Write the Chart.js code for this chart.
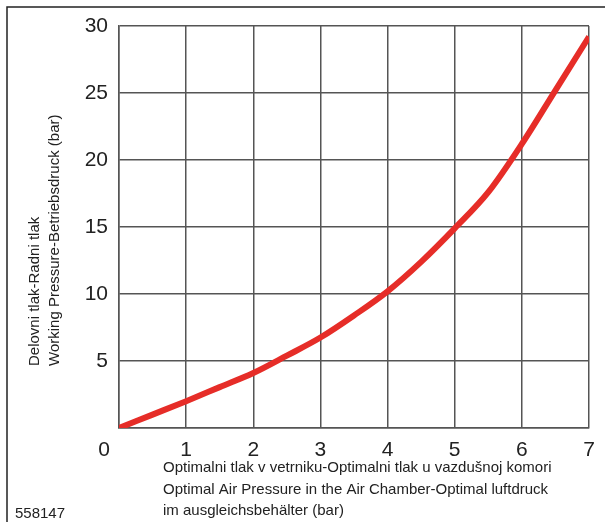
<!DOCTYPE html>
<html>
<head>
<meta charset="utf-8">
<script src="https://cdn.jsdelivr.net/npm/chart.js@4.4.0/dist/chart.umd.min.js"></script>
<style>
    html, body {margin: 0; padding: 0; background: #fff;}
    #wrap {width: 605px; height: 522px; position: relative;}
</style>
</head>
<body>
<div id="wrap"><canvas id="c"></canvas></div>
<script>
// 数据
const airPressure = [0, 0.5, 1, 1.5, 2, 2.5, 3, 3.5, 4, 4.5, 5, 5.5, 6, 6.5, 7] // x (bar)
const workPressure = [0, 1.0, 2.0, 3.05, 4.1, 5.4, 6.75, 8.4, 10.2, 12.4, 14.9, 17.6, 21.2, 25.2, 29.2] // y (bar)
const xTicks = [0, 1, 2, 3, 4, 5, 6, 7]
const yTicks = [0, 5, 10, 15, 20, 25, 30]

const yTitle = ['Delovni tlak-Radni tlak', 'Working Pressure-Betriebsdruck (bar)']
const xTitle = [
    'Optimalni tlak v vetrniku-Optimalni tlak u vazdušnoj komori',
    'Optimal Air Pressure in the Air Chamber-Optimal luftdruck',
    'im ausgleichsbehälter (bar)'
]
const figNo = '558147'

const FONT = '"Liberation Sans", Arial, sans-serif'
const GRID = '#555'
const TXT = '#222'

const points = airPressure.map((x, i) => ({x: x, y: workPressure[i]}))

// 文字 + 外框
const extras = {
    id: 'extras',
    afterDraw(chart) {
        const ctx = chart.ctx
        const a = chart.chartArea
        ctx.save()

        // 外框
        ctx.strokeStyle = '#222'
        ctx.lineWidth = 1.5
        ctx.beginPath()
        ctx.moveTo(7, 522)
        ctx.lineTo(7, 7)
        ctx.lineTo(605, 7)
        ctx.stroke()

        ctx.fillStyle = TXT

        // 原点 0
        ctx.font = '21px ' + FONT
        ctx.textAlign = 'center'
        ctx.textBaseline = 'middle'
        ctx.fillText('0', a.left - 15, a.bottom + 22)

        // y 轴标题
        ctx.font = '15px ' + FONT
        ctx.textAlign = 'left'
        ctx.textBaseline = 'alphabetic'
        ctx.save()
        ctx.translate(0, 366)
        ctx.rotate(-Math.PI / 2)
        ctx.fillText(yTitle[0], 0, 38.5)
        ctx.fillText(yTitle[1], 0, 58.5)
        ctx.restore()

        // x 轴标题
        for (let i = 0; i < xTitle.length; i++) {
            ctx.fillText(xTitle[i], 163, 472 + i * 21.5)
        }

        ctx.fillText(figNo, 15, 518)
        ctx.restore()
    }
}

new Chart(document.getElementById('c'), {
    type: 'line',
    data: {
        datasets: [{
            data: points,
            borderColor: 'rgb(230, 45, 40)',
            borderWidth: 6,
            pointRadius: 0,
            tension: 0.4,
            cubicInterpolationMode: 'monotone',
            fill: false
        }]
    },
    options: {
        responsive: true,
        maintainAspectRatio: false,
        animation: false,
        layout: {padding: {top: 26, right: 16, left: 0, bottom: 0}},
        plugins: {legend: {display: false}, tooltip: {enabled: false}},
        scales: {
            x: {
                type: 'linear',
                min: 0, max: 7,
                afterFit(scale) { scale.height = 94 },
                afterBuildTicks(scale) { scale.ticks = xTicks.map(v => ({value: v})) },
                grid: {color: GRID, lineWidth: 1.5, drawTicks: false},
                border: {color: GRID, width: 1.5},
                ticks: {
                    padding: 10,
                    color: TXT,
                    font: {family: FONT, size: 21},
                    maxRotation: 0,
                    callback: v => v === 0 ? '' : v
                }
            },
            y: {
                type: 'linear',
                min: 0, max: 30,
                afterFit(scale) { scale.width = 119 },
                afterBuildTicks(scale) { scale.ticks = yTicks.map(v => ({value: v})) },
                grid: {color: GRID, lineWidth: 1.5, drawTicks: false},
                border: {color: GRID, width: 1.5},
                ticks: {
                    padding: 11,
                    color: TXT,
                    font: {family: FONT, size: 21},
                    callback: v => v === 0 ? '' : v
                }
            }
        }
    },
    plugins: [extras]
})
</script>
</body>
</html>
